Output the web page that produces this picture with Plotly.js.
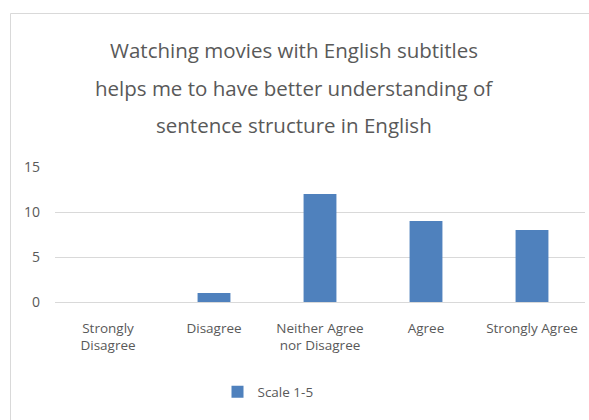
<!DOCTYPE html>
<html><head><meta charset="utf-8">
<script src="https://cdn.plot.ly/plotly-3.0.1.min.js"></script>
<style>body{margin:0;background:#fff}#c{width:589px;height:420px}</style>
</head><body><div id="c"></div>
<script>
var categories = ["Strongly<br>Disagree", "Disagree", "Neither Agree<br>nor Disagree", "Agree", "Strongly Agree"];
var values = [0, 1, 12, 9, 8];
var seriesName = "Scale 1-5";
var titleLines = ["Watching movies with English subtitles", "helps me to have better understanding of", "sentence structure in English"];
var yTicks = [0, 5, 10, 15];

var FONT = "'Open Sans', sans-serif";
var W = 589, H = 420, L = 55, R = 4, T = 167, B = 118;
var pw = W - L - R, ph = H - T - B;
function px2x(p){ return (p - L) / pw; }
function py2y(p){ return (H - B - p) / ph; }

var titleY = [50, 88, 125];
var annotations = titleLines.map(function(t, i){
  return {text: t, xref: 'paper', yref: 'paper', x: px2x(294), y: py2y(titleY[i]),
    xanchor: 'center', yanchor: 'middle', showarrow: false,
    font: {family: FONT, size: 20.5, color: '#595959'}};
});

Plotly.newPlot('c', [{
  type: 'bar', x: categories, y: values, name: seriesName,
  marker: {color: '#4F81BD'}, width: 0.31, showlegend: true
}], {
  width: W, height: H,
  margin: {l: L, r: R, t: T, b: B, pad: 0},
  paper_bgcolor: '#fff', plot_bgcolor: '#fff',
  font: {family: FONT, color: '#595959', size: 13},
  xaxis: {type: 'category', showgrid: false, showline: false, ticks: '', tickfont: {size: 13.5, color: '#595959'}, tickangle: 0, ticklabelstandoff: 16},
  yaxis: {range: [0, 15], tickvals: yTicks, showgrid: true, gridcolor: '#d9d9d9', gridwidth: 1,
    zeroline: true, zerolinecolor: '#d9d9d9', showline: false, ticks: '', ticklen: 0,
    tickfont: {size: 14, color: '#595959'}, ticklabelstandoff: 14},
  showlegend: true,
  legend: {orientation: 'h', x: px2x(268), xanchor: 'center', y: py2y(392), yanchor: 'middle',
    font: {size: 13.5, color: '#595959'}, itemwidth: 30},
  annotations: annotations,
  shapes: [{type: 'rect', xref: 'paper', yref: 'paper', x0: px2x(10.5), x1: px2x(620), y0: py2y(440), y1: py2y(13.5),
    line: {color: '#d9d9d9', width: 1}, fillcolor: 'rgba(0,0,0,0)', layer: 'below'}]
}, {displayModeBar: false, staticPlot: true});
</script></body></html>
